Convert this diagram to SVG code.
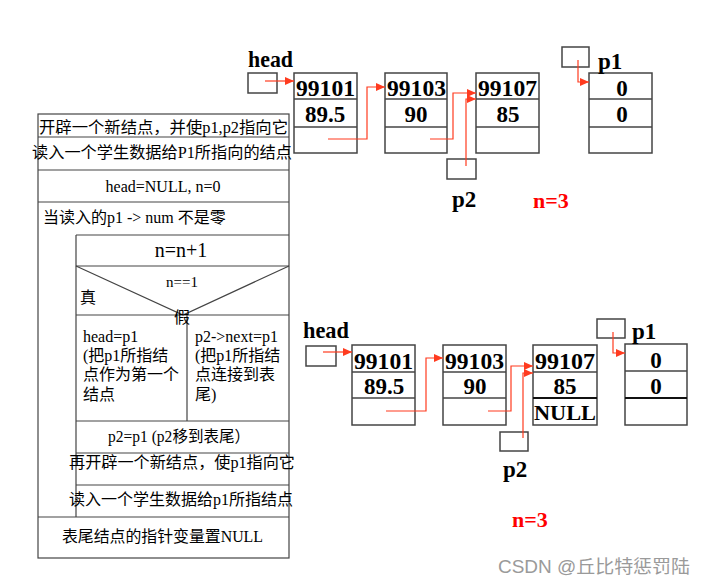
<svg xmlns="http://www.w3.org/2000/svg" width="704" height="583" viewBox="0 0 704 583">
<defs>
<marker id="ah" markerWidth="10" markerHeight="10" refX="9" refY="5" orient="auto" markerUnits="userSpaceOnUse">
<path d="M0,1 L9,5 L0,9 Z" fill="#ff3b1f"/>
</marker>
<style>
.fc{fill:none;stroke:#444;stroke-width:1.2}
.nd{fill:#fff;stroke:#444;stroke-width:1.5}
.rl{stroke:#444;stroke-width:1.5}
.tk{stroke:#111;stroke-width:2.2}
.ar{fill:none;stroke:#ff3b1f;stroke-width:1.2;marker-end:url(#ah)}
.t{font-family:"Liberation Serif","Noto Sans CJK SC",serif;font-size:16px;fill:#000}
.b{font-family:"Liberation Serif","Noto Sans CJK SC",serif;font-weight:bold;fill:#000}
.num{font-size:23px}
.lab{font-size:23px}
.red{fill:#ff0000;font-size:22px}
.wm{font-family:"Liberation Sans","Noto Sans CJK SC",sans-serif;font-size:18px;fill:#9a9a9a}
</style>
</defs>
<rect width="704" height="583" fill="#fff"/>

<g id="flowchart">
<rect class="fc" x="38" y="114" width="251" height="444"/>
<line class="fc" x1="38" y1="137" x2="289" y2="137"/>
<line class="fc" x1="38" y1="170" x2="289" y2="170"/>
<line class="fc" x1="38" y1="202" x2="289" y2="202"/>
<line class="fc" x1="76" y1="235" x2="289" y2="235"/>
<line class="fc" x1="76" y1="235" x2="76" y2="517"/>
<line class="fc" x1="76" y1="266" x2="289" y2="266"/>
<polyline class="fc" points="76,266 183,315 289,266"/>
<line class="fc" x1="76" y1="315" x2="289" y2="315"/>
<line class="fc" x1="187" y1="315" x2="187" y2="421"/>
<line class="fc" x1="76" y1="421" x2="289" y2="421"/>
<line class="fc" x1="76" y1="453" x2="289" y2="453"/>
<line class="fc" x1="76" y1="485" x2="289" y2="485"/>
<line class="fc" x1="38" y1="517" x2="289" y2="517"/>
<text class="t" x="39" y="133" textLength="249" lengthAdjust="spacingAndGlyphs">开辟一个新结点，并使p1,p2指向它</text>
<text class="t" x="32" y="158" textLength="260" lengthAdjust="spacingAndGlyphs">读入一个学生数据给P1所指向的结点</text>
<text class="t" x="163" y="192" text-anchor="middle">head=NULL, n=0</text>
<text class="t" x="43" y="223">当读入的p1 -&gt; num 不是零</text>
<text class="t" x="181" y="257" text-anchor="middle" style="font-size:20px">n=n+1</text>
<text class="t" x="182" y="287" text-anchor="middle" style="font-size:15px">n==1</text>
<text class="t" x="80" y="303">真</text>
<text class="t" x="174" y="323">假</text>
<text class="t" x="83" y="342">head=p1</text>
<text class="t" x="83" y="361">(把p1所指结</text>
<text class="t" x="83" y="380">点作为第一个</text>
<text class="t" x="83" y="400">结点</text>
<text class="t" x="195" y="342">p2-&gt;next=p1</text>
<text class="t" x="195" y="361">(把p1所指结</text>
<text class="t" x="195" y="380">点连接到表</text>
<text class="t" x="195" y="400">尾)</text>
<text class="t" x="108" y="442" textLength="142" lengthAdjust="spacingAndGlyphs">p2=p1 (p2移到表尾）</text>
<text class="t" x="69" y="468" textLength="226" lengthAdjust="spacingAndGlyphs">再开辟一个新结点，使p1指向它</text>
<text class="t" x="69" y="505" textLength="224" lengthAdjust="spacingAndGlyphs">读入一个学生数据给p1所指结点</text>
<text class="t" x="62" y="542" textLength="201" lengthAdjust="spacingAndGlyphs">表尾结点的指针变量置NULL</text>
</g>

<g id="top-head">
<rect class="nd" x="248" y="73" width="29" height="20"/>
<text class="b lab" x="248" y="67" textLength="45" lengthAdjust="spacingAndGlyphs">head</text>
</g>
<g id="top-node1">
<rect class="nd" x="294" y="73" width="63" height="80"/>
<line class="rl" x1="294" y1="99" x2="357" y2="99"/>
<line class="rl" x1="294" y1="127" x2="357" y2="127"/>
<text class="b num" x="296" y="96" textLength="59" lengthAdjust="spacingAndGlyphs">99101</text>
<text class="b num" x="325" y="122" text-anchor="middle">89.5</text>
</g>
<g id="top-node2">
<rect class="nd" x="385" y="73" width="62" height="80"/>
<line class="rl" x1="385" y1="99" x2="447" y2="99"/>
<line class="rl" x1="385" y1="127" x2="447" y2="127"/>
<text class="b num" x="387" y="96" textLength="59" lengthAdjust="spacingAndGlyphs">99103</text>
<text class="b num" x="416" y="122" text-anchor="middle">90</text>
</g>
<g id="top-node3">
<rect class="nd" x="476" y="73" width="63" height="80"/>
<line class="rl" x1="476" y1="99" x2="539" y2="99"/>
<line class="rl" x1="476" y1="127" x2="539" y2="127"/>
<text class="b num" x="478" y="96" textLength="59" lengthAdjust="spacingAndGlyphs">99107</text>
<text class="b num" x="508" y="122" text-anchor="middle">85</text>
</g>
<g id="top-p1node">
<rect class="nd" x="589" y="73" width="63" height="80"/>
<line class="rl" x1="589" y1="99" x2="652" y2="99"/>
<line class="rl" x1="589" y1="127" x2="652" y2="127"/>
<text class="b num" x="622" y="96" text-anchor="middle">0</text>
<text class="b num" x="622" y="122" text-anchor="middle">0</text>
</g>
<g id="top-p2">
<rect class="nd" x="447" y="159" width="29" height="20"/>
<text class="b lab" x="452" y="207">p2</text>
</g>
<g id="top-p1">
<rect class="nd" x="562" y="47" width="27" height="20"/>
<text class="b lab" x="598" y="69">p1</text>
</g>
<g id="top-n">
<text class="b red" x="533" y="208">n=3</text>
</g>

<g id="bot-head">
<rect class="nd" x="306" y="346" width="30" height="20"/>
<text class="b lab" x="303" y="338" textLength="46" lengthAdjust="spacingAndGlyphs">head</text>
</g>
<g id="bot-node1">
<rect class="nd" x="352" y="345" width="63" height="80"/>
<line class="rl" x1="352" y1="372" x2="415" y2="372"/>
<line class="rl" x1="352" y1="398" x2="415" y2="398"/>
<text class="b num" x="354" y="369" textLength="59" lengthAdjust="spacingAndGlyphs">99101</text>
<text class="b num" x="384" y="394" text-anchor="middle">89.5</text>
</g>
<g id="bot-node2">
<rect class="nd" x="443" y="345" width="63" height="80"/>
<line class="rl" x1="443" y1="372" x2="506" y2="372"/>
<line class="rl" x1="443" y1="398" x2="506" y2="398"/>
<text class="b num" x="445" y="369" textLength="59" lengthAdjust="spacingAndGlyphs">99103</text>
<text class="b num" x="475" y="394" text-anchor="middle">90</text>
</g>
<g id="bot-node3">
<rect class="nd" x="533" y="345" width="64" height="80"/>
<line class="rl" x1="533" y1="372" x2="597" y2="372"/>
<line class="tk" x1="533" y1="398" x2="597" y2="398"/>
<text class="b num" x="535" y="369" textLength="60" lengthAdjust="spacingAndGlyphs">99107</text>
<text class="b num" x="565" y="394" text-anchor="middle">85</text>
<text class="b" x="534" y="420" style="font-size:22px" textLength="62" lengthAdjust="spacingAndGlyphs">NULL</text>
</g>
<g id="bot-p1node">
<rect class="nd" x="625" y="344" width="62" height="81"/>
<line class="rl" x1="625" y1="371" x2="687" y2="371"/>
<line class="tk" x1="625" y1="398" x2="687" y2="398"/>
<text class="b num" x="656" y="368" text-anchor="middle">0</text>
<text class="b num" x="656" y="394" text-anchor="middle">0</text>
</g>
<g id="bot-p2">
<rect class="nd" x="500" y="432" width="28" height="19"/>
<text class="b lab" x="503" y="477">p2</text>
</g>
<g id="bot-p1">
<rect class="nd" x="597" y="319" width="28" height="19"/>
<text class="b lab" x="632" y="339">p1</text>
</g>
<g id="bot-n">
<text class="b red" x="512" y="527">n=3</text>
</g>

<g id="connectors">
<path class="ar" d="M265,81 H294"/>
<path class="ar" d="M328,139 H367 V87 H385"/>
<path class="ar" d="M430,139 H453 V93 H476"/>
<path class="ar" d="M466,166 V99 H476"/>
<path class="ar" d="M578,60 V82 H589"/>
<path class="ar" d="M323,352 H352"/>
<path class="ar" d="M386,411 H426 V358 H443"/>
<path class="ar" d="M488,411 H511 V366 H533"/>
<path class="ar" d="M523,438 V373 H533"/>
<path class="ar" d="M613,332 V353 H625"/>
</g>

<text class="wm" x="498" y="573" textLength="192" lengthAdjust="spacingAndGlyphs">CSDN @丘比特惩罚陆</text>
</svg>
